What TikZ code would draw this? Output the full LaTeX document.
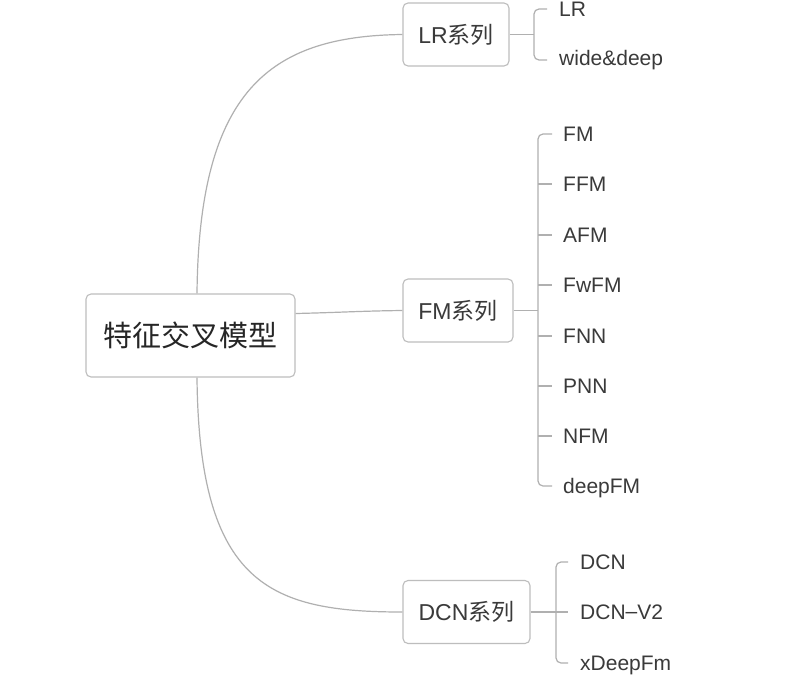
\documentclass[tikz,border=0pt]{standalone}
\usepackage{fontspec}
\setmainfont{Liberation Sans}
\newfontfamily\cjk{Noto Sans CJK SC}
\definecolor{linec}{HTML}{B0B0B0}
\definecolor{boxc}{HTML}{BDBDBD}
\definecolor{txtc}{HTML}{3A3A3A}
\begin{document}
\begin{tikzpicture}[x=1pt,y=-1pt,
  box/.style={draw=boxc,line width=1.1pt,rounded corners=5pt,fill=white,inner sep=0pt,text=txtc,font=\fontsize{23}{26}\selectfont},
  leaf/.style={anchor=west,inner sep=0pt,text=txtc,font=\fontsize{21}{23}\selectfont},
  conn/.style={draw=linec,line width=1.2pt},
  brk/.style={draw=linec,line width=1.2pt,rounded corners=5pt}]
\useasboundingbox[fill=white] (0,0) rectangle (801,686);
% main boxes
\node[box,minimum width=209pt,minimum height=83pt,text=black!85,font=\fontsize{29}{32}\selectfont] (root) at (190.5,335.5) {\cjk 特征交叉模型};
\node[box,minimum width=106pt,minimum height=63pt] (lr) at (456,34.5) {LR{\cjk 系列}};
\node[box,minimum width=110pt,minimum height=63pt] (fm) at (458,310.5) {FM{\cjk 系列}};
\node[box,minimum width=127pt,minimum height=63pt] (dcn) at (466.5,612) {DCN{\cjk 系列}};
% root connectors
\draw[conn] ([xshift=6.5pt]root.north) .. controls (199,90) and (270,36) .. (lr.west);
\draw[conn] ([yshift=22pt]root.east) .. controls (340,312.5) and (360,311) .. (fm.west);
\draw[conn] ([xshift=6.5pt]root.south) .. controls (199,585) and (270,612) .. (dcn.west);
% LR leaves
\node[leaf] (l1) at (559,9) {LR};
\node[leaf] (l2) at (559,60) {wide\&deep};
\coordinate (lrb) at (534,34.5);
\draw[conn] (lr.east) -- (lrb);
\draw[brk] ([xshift=-12pt]l1.west) -- (lrb |- l1.west) -- (lrb |- l2.west) -- ([xshift=-12pt]l2.west);
% FM leaves
\node[leaf] (f1) at (563,134) {FM};
\node[leaf] (f2) at (563,184) {FFM};
\node[leaf] (f3) at (563,235) {AFM};
\node[leaf] (f4) at (563,285) {FwFM};
\node[leaf] (f5) at (563,336) {FNN};
\node[leaf] (f6) at (563,386) {PNN};
\node[leaf] (f7) at (563,436) {NFM};
\node[leaf,anchor=base west] (f8) at (563,493) {deepFM};
\coordinate (fmb) at (538,310.5);
\draw[conn] (fm.east) -- (fmb);
\draw[brk] ([xshift=-11pt]f1.west) -- (fmb |- f1.west) -- (538,486) -- (552,486);
\foreach \n in {f2,f3,f4,f5,f6,f7}{\draw[conn] (fmb |- \n.west) -- ([xshift=-11pt]\n.west);}
% DCN leaves
\node[leaf] (d1) at (580,562) {DCN};
\node[leaf] (d2) at (580,612) {DCN\raisebox{0.1ex}{–}V2};
\node[leaf,anchor=base west] (d3) at (580,670) {xDeepFm};
\coordinate (dcb) at (556,612);
\draw[conn] (dcn.east) -- (dcb);
\draw[brk] ([xshift=-12pt]d1.west) -- (dcb |- d1.west) -- (556,663) -- (568,663);
\draw[conn] (dcb) -- ([xshift=-12pt]d2.west);
\end{tikzpicture}
\end{document}
